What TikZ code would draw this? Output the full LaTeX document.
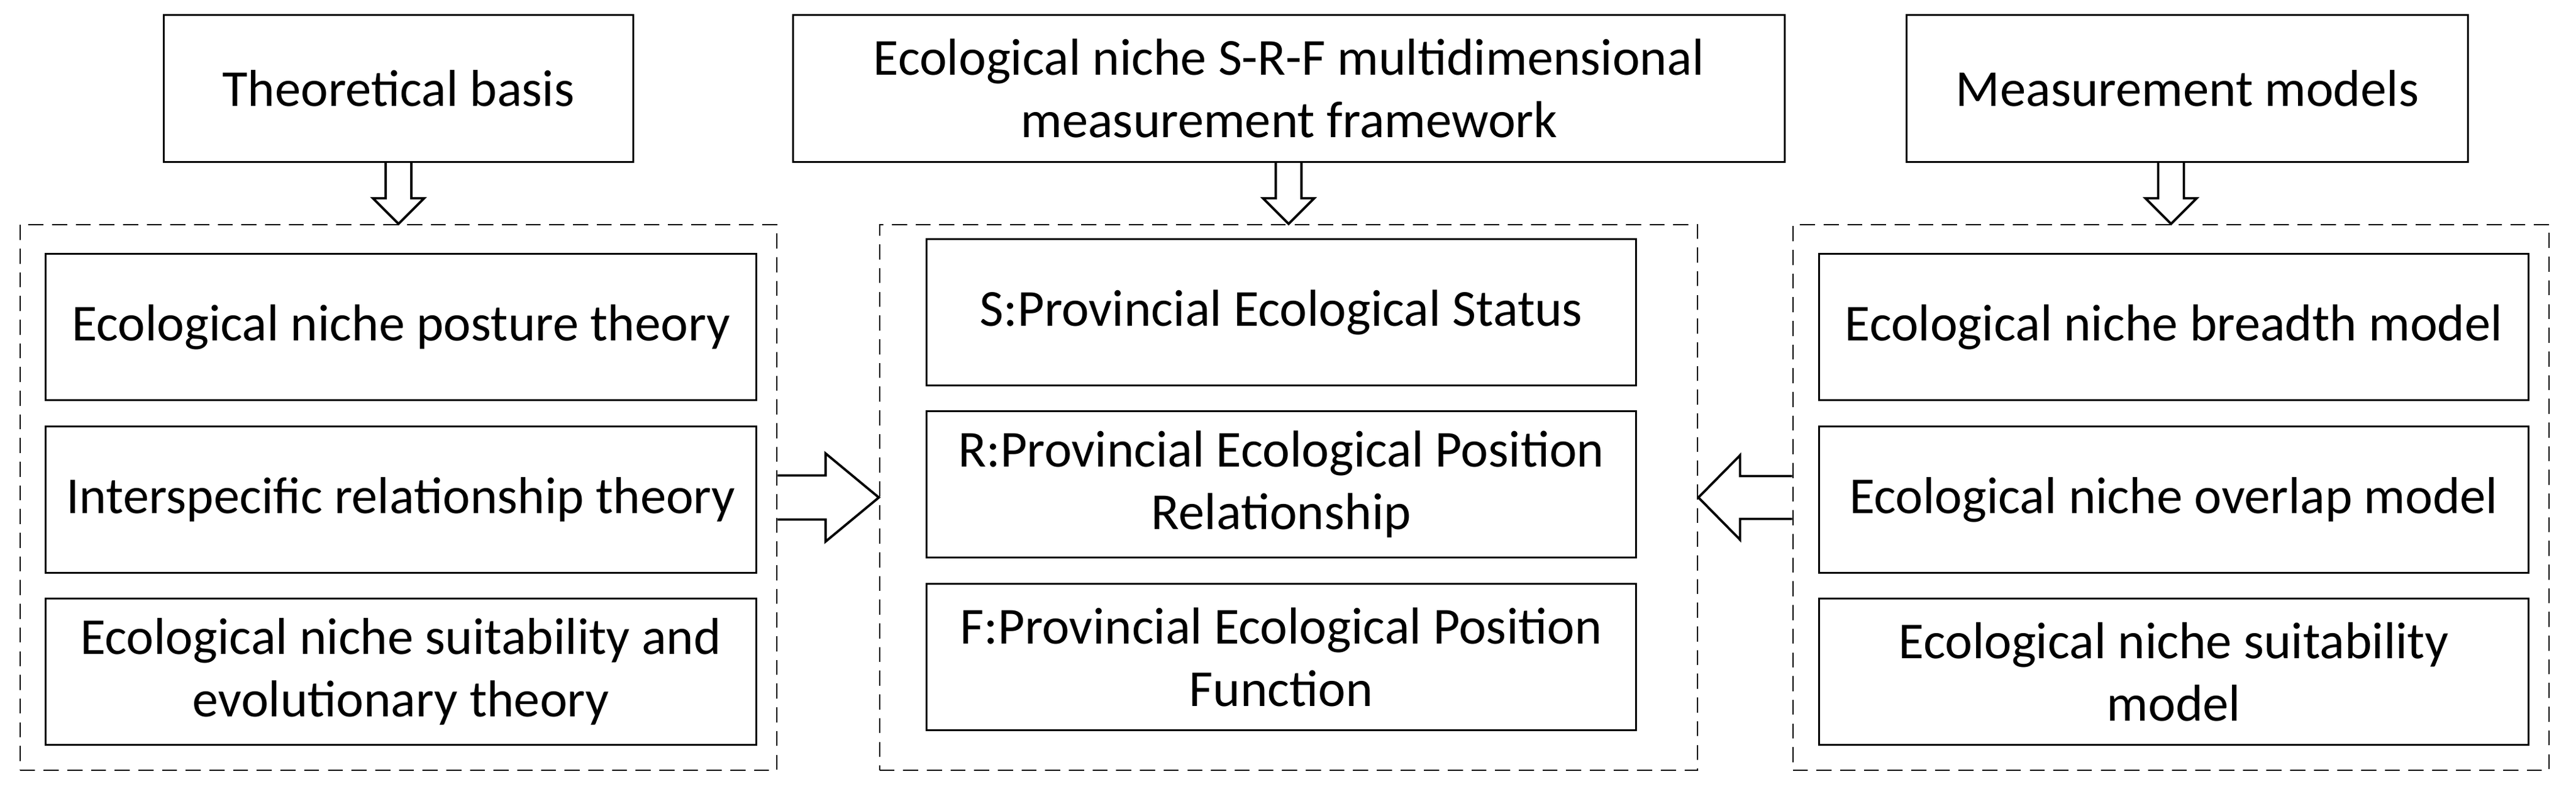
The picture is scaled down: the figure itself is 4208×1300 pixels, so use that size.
\documentclass[tikz,border=0pt]{standalone}
\usepackage{fontspec}
\setmainfont{Carlito}
\usetikzlibrary{calc}

\begin{document}
\begin{tikzpicture}[x=0.01cm,y=-0.01cm]\tikzstyle{every node} = [align=center, font=\fontsize{24.1}{29}\selectfont]
    \tikzstyle{box} = [draw, line width=0.85pt, inner sep=0pt]
    \tikzstyle{group} = [draw, dashed, dash pattern=on 7pt off 4pt, line width=0.6pt, inner sep=0pt]
    \tikzstyle{hollow} = [line width=1.1pt, line join=miter]
    \useasboundingbox (0,0) rectangle (4208,1300);

    \node[box, minimum width=7.66cm, minimum height=2.39cm] (basis) at (651,144.5) {Theoretical basis};
    \node[box, minimum width=16.19cm, minimum height=2.39cm] (frame) at (2105.5,144.5) {Ecological niche S-R-F multidimensional\\measurement framework};
    \node[box, minimum width=9.16cm, minimum height=2.39cm] (models) at (3573,144.5) {Measurement models};

    \node[group, minimum width=12.36cm, minimum height=8.91cm] (theory) at (651,812.5) {};
    \node[group, minimum width=13.36cm, minimum height=8.91cm] (srf) at (2105,812.5) {};
    \node[group, minimum width=12.35cm, minimum height=8.91cm] (model) at (3546.5,812.5) {};

    \node[box, minimum width=11.6cm, minimum height=2.38cm] (posture) at (655,534) {Ecological niche posture theory};
    \node[box, minimum width=11.6cm, minimum height=2.38cm] (inter) at (655,816) {Interspecific relationship theory};
    \node[box, minimum width=11.6cm, minimum height=2.38cm] (evol) at (655,1097) {Ecological niche suitability and\\evolutionary theory};

    \node[box, minimum width=11.58cm, minimum height=2.38cm] (status) at (2093,510) {S:Provincial Ecological Status};
    \node[box, minimum width=11.58cm, minimum height=2.38cm] (relation) at (2093,791) {R:Provincial Ecological Position\\Relationship};
    \node[box, minimum width=11.58cm, minimum height=2.38cm] (function) at (2093,1073) {F:Provincial Ecological Position\\Function};

    \node[box, minimum width=11.58cm, minimum height=2.38cm] (breadth) at (3551,534) {Ecological niche breadth model};
    \node[box, minimum width=11.58cm, minimum height=2.38cm] (overlap) at (3551,816) {Ecological niche overlap model};
    \node[box, minimum width=11.58cm, minimum height=2.38cm] (suit) at (3551,1097) {Ecological niche suitability\\model};

    \draw[hollow] ($(theory.north |- basis.south)+(-21,0)$) -- ($(theory.north)+(-21,-42)$) -- ($(theory.north)+(-42,-42)$) -- (theory.north) -- ($(theory.north)+(42,-42)$) -- ($(theory.north)+(21,-42)$) -- ($(theory.north |- basis.south)+(21,0)$);
    \draw[hollow] ($(srf.north |- frame.south)+(-21,0)$) -- ($(srf.north)+(-21,-42)$) -- ($(srf.north)+(-42,-42)$) -- (srf.north) -- ($(srf.north)+(42,-42)$) -- ($(srf.north)+(21,-42)$) -- ($(srf.north |- frame.south)+(21,0)$);
    \draw[hollow] ($(model.north |- models.south)+(-21,0)$) -- ($(model.north)+(-21,-42)$) -- ($(model.north)+(-42,-42)$) -- (model.north) -- ($(model.north)+(42,-42)$) -- ($(model.north)+(21,-42)$) -- ($(model.north |- models.south)+(21,0)$);

    \draw[hollow] ($(theory.east)+(0,-36)$) -- ($(srf.west)+(-87,-36)$) -- ($(srf.west)+(-87,-72)$) -- (srf.west) -- ($(srf.west)+(-87,72)$) -- ($(srf.west)+(-87,36)$) -- ($(theory.east)+(0,36)$);
    \draw[hollow] ($(model.west)+(0,-35)$) -- ($(srf.east)+(68,-35)$) -- ($(srf.east)+(68,-69)$) -- (srf.east) -- ($(srf.east)+(68,69)$) -- ($(srf.east)+(68,35)$) -- ($(model.west)+(0,35)$);
  \end{tikzpicture}
\end{document}
